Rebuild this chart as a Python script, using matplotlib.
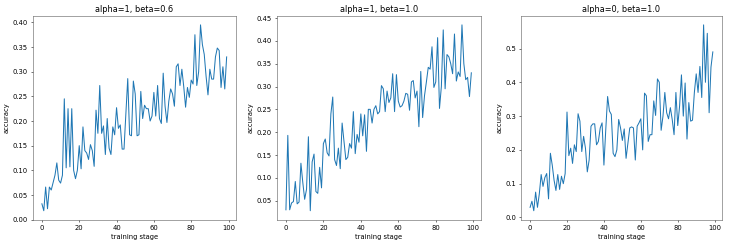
import numpy as np
import matplotlib
matplotlib.use("Agg")
import matplotlib.pyplot as plt

stages = np.arange(100)

acc_a1_b06 = [
    0.032, 0.018, 0.066, 0.022, 0.066, 0.060, 0.075, 0.090, 0.115, 0.080,
    0.074, 0.090, 0.245, 0.105, 0.225, 0.107, 0.225, 0.100, 0.083, 0.100,
    0.150, 0.103, 0.188, 0.140, 0.135, 0.122, 0.152, 0.140, 0.108, 0.222,
    0.175, 0.272, 0.175, 0.190, 0.132, 0.205, 0.145, 0.132, 0.188, 0.172,
    0.227, 0.185, 0.192, 0.143, 0.143, 0.215, 0.286, 0.172, 0.170, 0.281,
    0.255, 0.170, 0.172, 0.260, 0.205, 0.232, 0.225, 0.225, 0.200, 0.210,
    0.258, 0.210, 0.272, 0.205, 0.195, 0.297, 0.230, 0.197, 0.240, 0.265,
    0.255, 0.230, 0.310, 0.316, 0.272, 0.305, 0.270, 0.228, 0.268, 0.248,
    0.283, 0.275, 0.375, 0.272, 0.300, 0.395, 0.355, 0.335, 0.290, 0.253,
    0.305, 0.285, 0.285, 0.330, 0.348, 0.343, 0.268, 0.310, 0.265, 0.330,
]

acc_a1_b10 = [
    0.030, 0.193, 0.030, 0.045, 0.048, 0.092, 0.043, 0.047, 0.132, 0.090,
    0.053, 0.075, 0.190, 0.028, 0.135, 0.152, 0.070, 0.066, 0.123, 0.078,
    0.175, 0.185, 0.155, 0.148, 0.240, 0.277, 0.140, 0.127, 0.165, 0.120,
    0.220, 0.180, 0.140, 0.145, 0.175, 0.165, 0.245, 0.153, 0.195, 0.178,
    0.240, 0.192, 0.238, 0.158, 0.250, 0.250, 0.220, 0.250, 0.258, 0.240,
    0.245, 0.302, 0.295, 0.245, 0.290, 0.265, 0.275, 0.328, 0.245, 0.326,
    0.268, 0.255, 0.258, 0.268, 0.285, 0.283, 0.248, 0.310, 0.313, 0.275,
    0.290, 0.212, 0.333, 0.232, 0.280, 0.310, 0.342, 0.338, 0.387, 0.298,
    0.310, 0.407, 0.252, 0.300, 0.424, 0.295, 0.370, 0.365, 0.350, 0.328,
    0.415, 0.312, 0.332, 0.322, 0.435, 0.350, 0.315, 0.320, 0.278, 0.330,
]

acc_a0_b10 = [
    0.030, 0.048, 0.020, 0.075, 0.030, 0.070, 0.127, 0.092, 0.118, 0.130,
    0.055, 0.190, 0.155, 0.110, 0.080, 0.127, 0.083, 0.122, 0.100, 0.130,
    0.312, 0.183, 0.205, 0.160, 0.215, 0.195, 0.307, 0.285, 0.195, 0.240,
    0.205, 0.135, 0.170, 0.270, 0.277, 0.277, 0.215, 0.225, 0.265, 0.280,
    0.155, 0.260, 0.358, 0.315, 0.305, 0.190, 0.180, 0.200, 0.290, 0.265,
    0.228, 0.262, 0.175, 0.220, 0.265, 0.268, 0.265, 0.170, 0.270, 0.280,
    0.292, 0.200, 0.368, 0.360, 0.225, 0.245, 0.245, 0.345, 0.302, 0.410,
    0.400, 0.258, 0.300, 0.370, 0.310, 0.292, 0.325, 0.290, 0.245, 0.370,
    0.272, 0.330, 0.422, 0.300, 0.398, 0.232, 0.340, 0.285, 0.288, 0.370,
    0.425, 0.370, 0.447, 0.355, 0.570, 0.400, 0.545, 0.310, 0.445, 0.490,
]

titles = ["alpha=1, beta=0.6", "alpha=1, beta=1.0", "alpha=0, beta=1.0"]
series = [acc_a1_b06, acc_a1_b10, acc_a0_b10]

boxes = [
    [0.0447, 0.102, 0.278, 0.834],
    [0.3785, 0.102, 0.279, 0.834],
    [0.7127, 0.102, 0.275, 0.834],
]

fig = plt.figure(figsize=(15, 5.03), dpi=48.73)
for box, ys, title in zip(boxes, series, titles):
    ax = fig.add_axes(box)
    ax.plot(stages, ys, color="#1f77b4", linewidth=1.5)
    ax.set_title(title)
    ax.set_xlabel("training stage")
    ax.set_ylabel("accuracy")
    for sp in ax.spines.values():
        sp.set_color("#555555")

fig.savefig("out.png", dpi=48.73)
